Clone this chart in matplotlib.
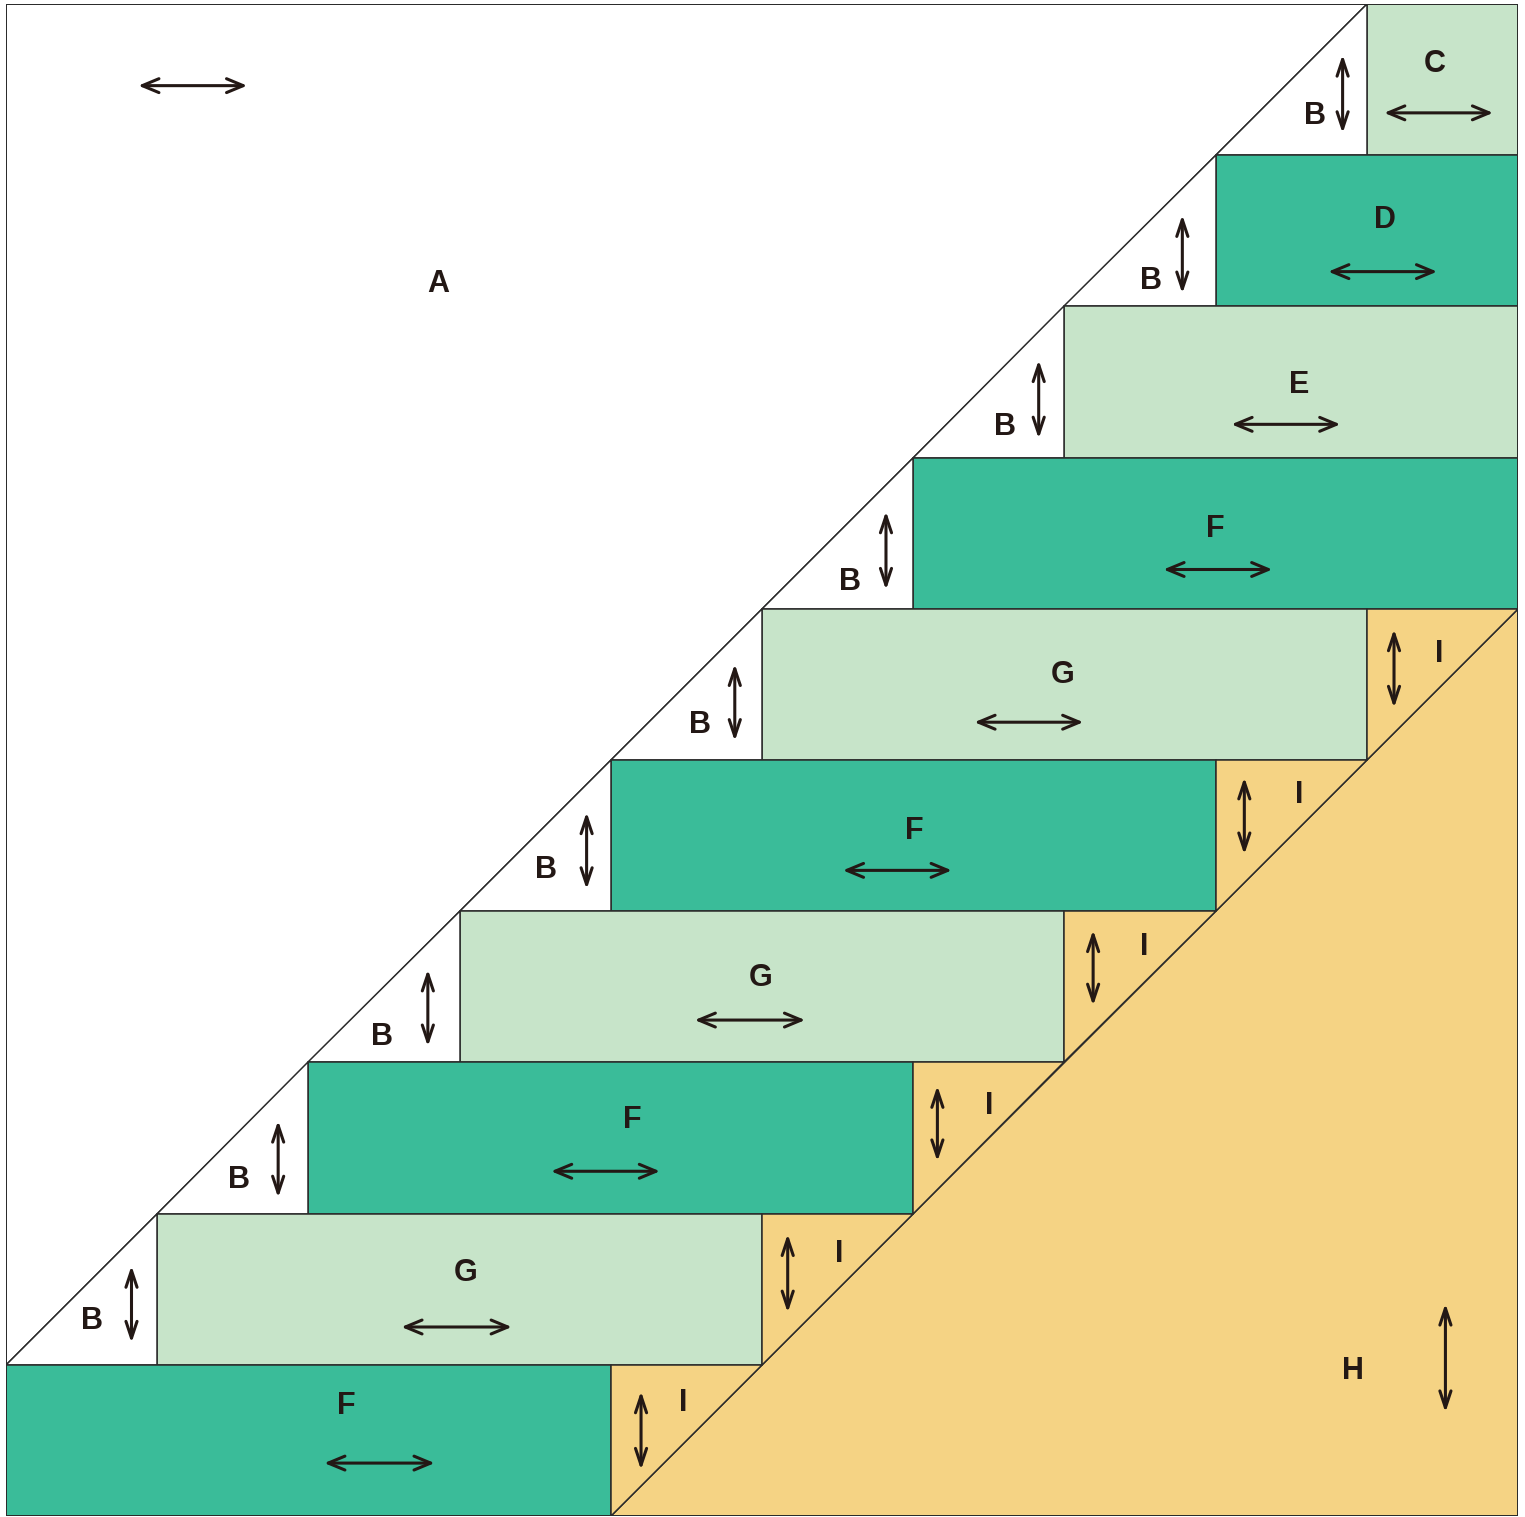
import matplotlib
matplotlib.use("Agg")
import matplotlib.pyplot as plt
from matplotlib.patches import Polygon, Rectangle, FancyArrowPatch

plt.rcParams['font.family'] = ['Liberation Sans', 'DejaVu Sans']

# ---- data (grid units, 10 x 10 block, y measured upward) ----
row_labels = ['C', 'D', 'E', 'F', 'G', 'F', 'G', 'F', 'G', 'F']       # rows top -> bottom
row_start = [9, 8, 7, 6, 5, 4, 3, 2, 1, 0]
row_end = [10, 10, 10, 10, 9, 8, 7, 6, 5, 4]
row_kind = ['light', 'teal', 'light', 'teal', 'light', 'teal', 'light', 'teal', 'light', 'teal']

# label positions of the rectangle pieces, and their horizontal arrows (x0, x1, y)
row_text_xy = [(9.45, 9.62), (9.12, 8.59), (8.55, 7.50), (8.00, 6.55), (6.99, 5.58),
               (6.01, 4.55), (4.99, 3.58), (4.14, 2.64), (3.04, 1.63), (2.25, 0.75)]
row_arrow = [(9.13, 9.82, 9.28), (8.76, 9.45, 8.23), (8.12, 8.81, 7.22), (7.67, 8.36, 6.26),
             (6.42, 7.11, 5.25), (5.55, 6.24, 4.27), (4.57, 5.27, 3.28), (3.62, 4.31, 2.28),
             (2.63, 3.33, 1.25), (2.12, 2.82, 0.35)]

# B triangles (rows 0..8): label and vertical arrow (x, ytop, ybottom)
b_text_xy = [(8.66, 9.28), (7.57, 8.19), (6.61, 7.22), (5.58, 6.20), (4.59, 5.25),
             (3.57, 4.29), (2.49, 3.19), (1.54, 2.24), (0.57, 1.31)]
b_arrow = [(8.84, 9.65, 9.16), (7.78, 8.59, 8.10), (6.83, 7.63, 7.14), (5.82, 6.63, 6.14),
           (4.82, 5.62, 5.14), (3.84, 4.64, 4.16), (2.79, 3.60, 3.12), (1.80, 2.60, 2.12),
           (0.83, 1.64, 1.16)]

# I triangles (rows 4..9)
i_text_xy = [(9.48, 5.72), (8.55, 4.79), (7.53, 3.78), (6.50, 2.73), (5.51, 1.75), (4.48, 0.77)]
i_arrow = [(9.18, 5.85, 5.36), (8.19, 4.87, 4.39), (7.19, 3.86, 3.39), (6.16, 2.83, 2.36),
           (5.17, 1.85, 1.36), (4.20, 0.81, 0.32)]

a_text_xy = (2.86, 8.17)
a_arrow = (0.89, 1.58, 9.46)
h_text_xy = (8.91, 0.98)
h_arrow = (9.52, 1.39, 0.70)

colors = {'light': '#C7E4C9', 'teal': '#3ABC99', 'orange': '#F5D384', 'white': '#FFFFFF'}
ink = '#231815'
edge = '#2b2b2b'

fig = plt.figure(figsize=(15.25, 15.17), dpi=100)
ax = fig.add_axes([6 / 1525, 1 / 1517, 1512 / 1525, 1512 / 1517])
ax.set_xlim(0, 10)
ax.set_ylim(0, 10)
ax.axis('off')

elw = 1.1

# A triangle
ax.add_patch(Polygon([(0, 1), (0, 10), (9, 10)], closed=True, fc=colors['white'], ec=edge, lw=elw))
# H triangle
ax.add_patch(Polygon([(4, 0), (10, 0), (10, 6)], closed=True, fc=colors['orange'], ec=edge, lw=elw))

for k in range(10):
    ytop = 10 - k
    ybot = ytop - 1
    s, e = row_start[k], row_end[k]
    ax.add_patch(Rectangle((s, ybot), e - s, 1, fc=colors[row_kind[k]], ec=edge, lw=elw))
    if k <= 8:
        ax.add_patch(Polygon([(s - 1, ybot), (s, ybot), (s, ytop)], closed=True,
                             fc=colors['white'], ec=edge, lw=elw))
    if k >= 4:
        ax.add_patch(Polygon([(e, ybot), (e, ytop), (e + 1, ytop)], closed=True,
                             fc=colors['orange'], ec=edge, lw=elw))

# outer border
ax.add_patch(Rectangle((0, 0), 10, 10, fc='none', ec=edge, lw=1.4, zorder=5))

fs = 22
dy = -0.02   # visual centring of capitals
ext = 0.015  # arrow tips reach slightly past the measured ends


def label(xy, s):
    ax.text(xy[0], xy[1] + dy, s, ha='center', va='center', fontsize=fs, fontweight='bold',
            color=ink, zorder=6)


def harrow(a):
    x0, x1, y = a
    ax.add_patch(FancyArrowPatch((x0 - ext, y), (x1 + ext, y),
                                 arrowstyle='<->,head_length=12,head_width=5',
                                 mutation_scale=1, lw=2.2, color=ink, shrinkA=0, shrinkB=0, zorder=6))


def varrow(a):
    x, y0, y1 = a
    ax.add_patch(FancyArrowPatch((x, y0 + ext), (x, y1 - ext),
                                 arrowstyle='<->,head_length=12,head_width=4',
                                 mutation_scale=1, lw=2.2, color=ink, shrinkA=0, shrinkB=0, zorder=6))


for k in range(10):
    label(row_text_xy[k], row_labels[k])
    harrow(row_arrow[k])
for k in range(9):
    label(b_text_xy[k], 'B')
    varrow(b_arrow[k])
for k in range(6):
    label(i_text_xy[k], 'I')
    varrow(i_arrow[k])
label(a_text_xy, 'A')
harrow(a_arrow)
label(h_text_xy, 'H')
varrow(h_arrow)

fig.savefig('out.png', dpi=100, facecolor='white')
